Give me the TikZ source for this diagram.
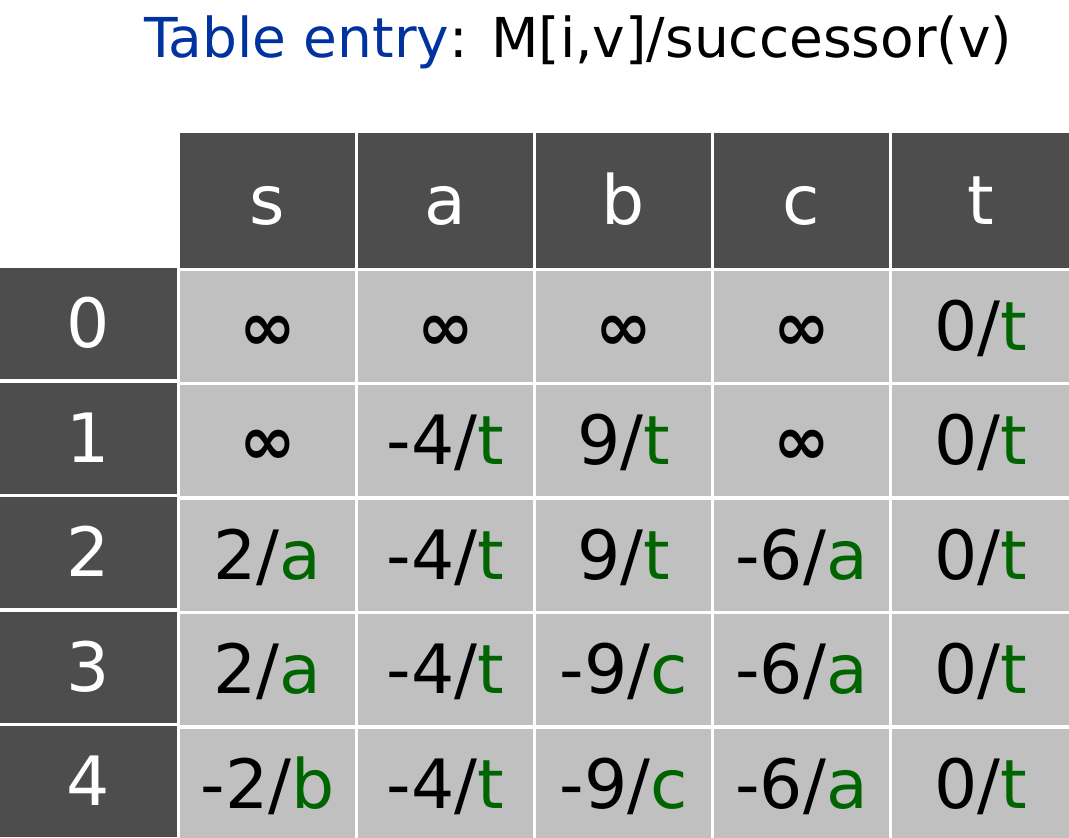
\documentclass[tikz,border=0pt]{standalone}
\usepackage{fontspec}
\setmainfont{DejaVu Sans}
\definecolor{hdr}{HTML}{4D4D4D}
\definecolor{cellg}{HTML}{C0C0C0}
\definecolor{succ}{HTML}{006400}
\definecolor{ttl}{HTML}{0033A0}
\newcommand{\sucx}[1]{\textcolor{succ}{#1}}
\newcommand{\infx}{{\fontsize{68}{70}\selectfont\bfseries ∞}}
\begin{document}
\begin{tikzpicture}[x=1pt,y=-1pt,
  box/.style={inner sep=0pt, outer sep=0pt, draw=none, text height=48pt, text depth=0pt,
    font=\fontsize{68}{72}\selectfont},
  hdrbox/.style={box, fill=hdr, text=white, minimum height=135pt},
  rowbox/.style={box, fill=hdr, text=white, minimum width=177pt, minimum height=111pt},
  databox/.style={box, fill=cellg, text=black, minimum height=111pt},
  ttlstyle/.style={inner sep=0pt, anchor=base west, font=\fontsize{55}{60}\selectfont}]
\useasboundingbox[fill=white] (0,0) rectangle (1069,838);
\node[ttlstyle] (title) at (144,57) {\textcolor{ttl}{Table entry}: M[i,v]/successor(v)};
% column headers
\node[hdrbox, minimum width=175pt] (h-0) at (267.5,200.5) {s};
\node[hdrbox, minimum width=175pt] (h-1) at (445.5,200.5) {a};
\node[hdrbox, minimum width=175pt] (h-2) at (623.5,200.5) {b};
\node[hdrbox, minimum width=175pt] (h-3) at (801.5,200.5) {c};
\node[hdrbox, minimum width=177pt] (h-4) at (980.5,200.5) {t};
% row labels
\foreach \r in {0,...,4}{
  \node[rowbox] (r-\r) at (88.5,323.5+114.5*\r) {\r};
}
% data
\foreach \r/\ea/\eb/\ec/\ed/\ee in {
  0/{\infx}/{\infx}/{\infx}/{\infx}/{0/\sucx{t}},
  1/{\infx}/{-4/\sucx{t}}/{9/\sucx{t}}/{\infx}/{0/\sucx{t}},
  2/{2/\sucx{a}}/{-4/\sucx{t}}/{9/\sucx{t}}/{-6/\sucx{a}}/{0/\sucx{t}},
  3/{2/\sucx{a}}/{-4/\sucx{t}}/{-9/\sucx{c}}/{-6/\sucx{a}}/{0/\sucx{t}},
  4/{-2/\sucx{b}}/{-4/\sucx{t}}/{-9/\sucx{c}}/{-6/\sucx{a}}/{0/\sucx{t}}}{
  \pgfmathsetmacro{\cy}{326+114.5*\r}
  \node[databox, minimum width=175pt] (d-\r-0) at (267.5,\cy) {\ea};
  \node[databox, minimum width=175pt] (d-\r-1) at (445.5,\cy) {\eb};
  \node[databox, minimum width=175pt] (d-\r-2) at (623.5,\cy) {\ec};
  \node[databox, minimum width=175pt] (d-\r-3) at (801.5,\cy) {\ed};
  \node[databox, minimum width=177pt] (d-\r-4) at (980.5,\cy) {\ee};
}
\end{tikzpicture}
\end{document}
